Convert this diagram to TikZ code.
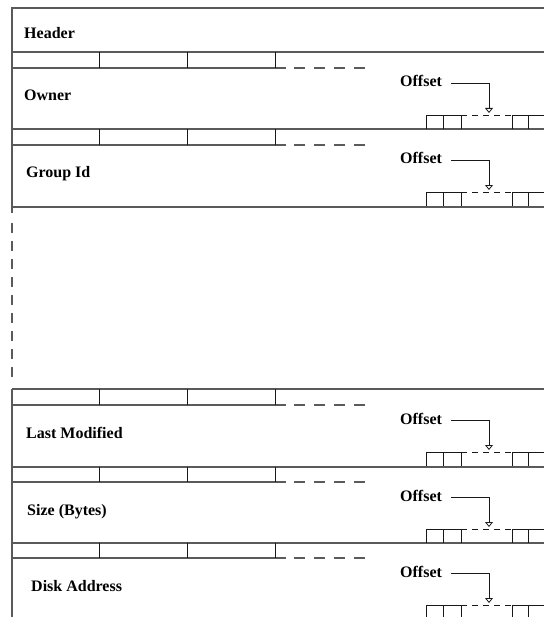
\documentclass[tikz,border=0pt]{standalone}
\usepackage{fontspec}
\setmainfont{Liberation Serif}
\usetikzlibrary{arrows.meta}
\definecolor{linegray}{RGB}{90,90,90}
\definecolor{ink}{RGB}{25,25,25}

\begin{document}
\begin{tikzpicture}[
    x=1bp, y=-1bp,
    field/.style={anchor=base west, inner sep=0pt, font=\bfseries\fontsize{16bp}{19bp}\selectfont},
    rule/.style={draw=linegray, line width=1.3bp},
    cell/.style={draw=ink, line width=0.9bp},
    gap/.style={rule, dash pattern=on 11bp off 9bp},
    slot/.style={cell, dash pattern=on 6bp off 5bp},
    pointer/.style={draw=ink, line width=0.8bp, -{Triangle[open, width=8bp, length=5bp]}},
]
\useasboundingbox (0,0) rectangle (544,617);

% outer frame, broken on the left between the two groups
\draw[rule] (544,8) -- (12,8) -- (12,213);
\draw[rule, dash pattern=on 10bp off 8bp] (12,223) -- (12,377);
\draw[rule] (12,389) -- (12,617);
\draw[rule] (12,207) -- (544,207);

\node[field] (head) at (24,39) {Header};

% byte rows between the fields
\foreach \t/\b in {52/68, 129/145, 389/405, 467/482, 543/558} {
  \draw[rule] (12,\t) -- (544,\t);
  \draw[rule] (12,\b) -- (286,\b);
  \draw[gap] (294,\b) -- (365,\b);
  \draw[cell] (99,\t) -- (99,\b) (187,\t) -- (187,\b) (275,\t) -- (275,\b);
}

% fields with their offset pointers
\foreach \T/\name/\lx in {68/Owner/24, 145/Group Id/26, 405/Last Modified/26, 482/Size (Bytes)/27, 558/Disk Address/31} {
  \node[field] (lab\T) at (\lx,\T+33) {\name};
  \node[field] (off\T) at (400,\T+19) {Offset};
  \coordinate (tip\T) at (489,\T+45);
  \draw[pointer] ([xshift=9bp,yshift=4bp]off\T.base east) -| (tip\T);
  \draw[cell] (426,\T+61) |- (461,\T+47) (443,\T+47) -- (443,\T+61) (461,\T+47) -- (461,\T+61);
  \draw[slot] (461,\T+47) -- (512,\T+47);
  \draw[cell] (544,\T+47) -- (512,\T+47) -- (512,\T+61) (528,\T+47) -- (528,\T+61);
}

\end{tikzpicture}
\end{document}
